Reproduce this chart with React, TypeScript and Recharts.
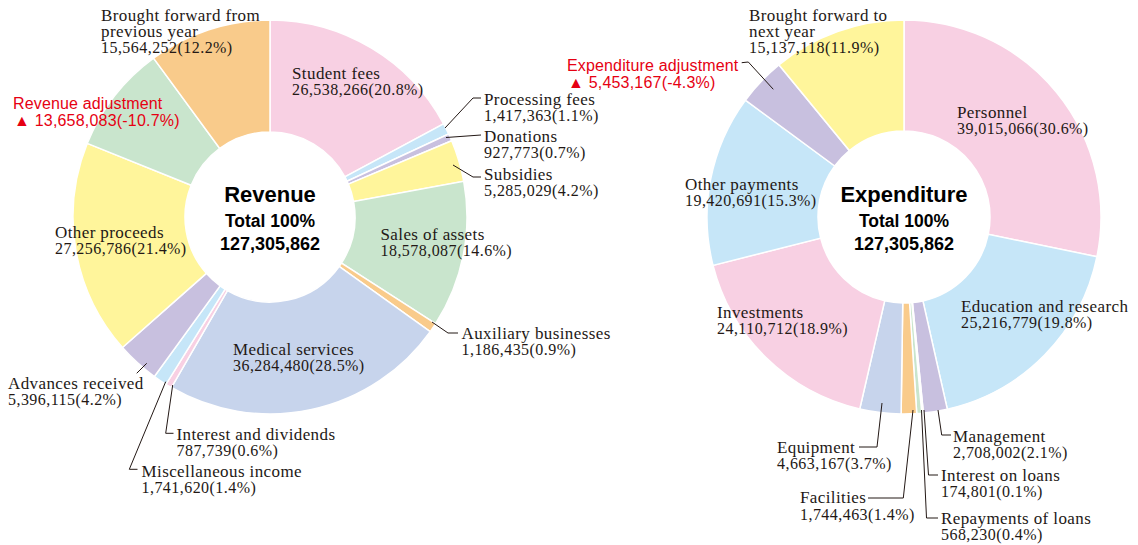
import React from 'react';
import { PieChart, Pie, Cell } from 'recharts';

// ---------- DATA ----------
const revenueCategories = [
  'Student fees', 'Processing fees', 'Donations', 'Subsidies', 'Sales of assets',
  'Auxiliary businesses', 'Medical services', 'Interest and dividends', 'Miscellaneous income',
  'Advances received', 'Other proceeds', 'Revenue adjustment', 'Brought forward from previous year',
];
const revenueValues = [
  26538266, 1417363, 927773, 5285029, 18578087, 1186435, 36284480, 787739, 1741620,
  5396115, 27256786, 13658083, 15564252,
];
const revenuePercents = ['20.8', '1.1', '0.7', '4.2', '14.6', '0.9', '28.5', '0.6', '1.4', '4.2', '21.4', '-10.7', '12.2'];

const expenditureCategories = [
  'Personnel', 'Education and research', 'Management', 'Interest on loans', 'Repayments of loans',
  'Facilities', 'Equipment', 'Investments', 'Other payments', 'Expenditure adjustment',
  'Brought forward to next year',
];
const expenditureValues = [
  39015066, 25216779, 2708002, 174801, 568230, 1744463, 4663167, 24110712, 19420691, 5453167, 15137118,
];
const expenditurePercents = ['30.6', '19.8', '2.1', '0.1', '0.4', '1.4', '3.7', '18.9', '15.3', '-4.3', '11.9'];

const totalLabel = 'Total 100%';
const totalValue = 127305862;

// ---------- STYLES ----------
const PINK = '#f8d0e3';
const LBLUE = '#c6e6f8';
const LAV = '#c8c0df';
const YEL = '#fff59b';
const GRN = '#c9e5cd';
const ORG = '#f9cb8b';
const PERI = '#c7d4ec';
const revenueColors = [PINK, LBLUE, LAV, YEL, GRN, ORG, PERI, PINK, LBLUE, LAV, YEL, GRN, ORG];
const expenditureColors = [PINK, LBLUE, LAV, YEL, GRN, ORG, PERI, PINK, LBLUE, LAV, YEL];

const RED = '#e60012';
const INK = '#231815';
const SERIF = '"Liberation Serif", "Times New Roman", serif';
const SANS = '"Liberation Sans", Arial, Helvetica, sans-serif';

type LabelLayout = {
  i: number;
  x: number;
  y: number;
  lines?: string[];
  leader?: number[][];
  red?: boolean;
};

const revenueLayout: LabelLayout[] = [
  { i: 12, x: 101, y: 20.5, lines: ['Brought forward from', 'previous year'] },
  { i: 11, x: 13, y: 109, red: true },
  { i: 0, x: 292, y: 79 },
  { i: 1, x: 484, y: 105, leader: [[445, 128], [473, 98], [481, 98]] },
  { i: 2, x: 484, y: 142, leader: [[446, 137.5], [481, 135]] },
  { i: 3, x: 484, y: 180, leader: [[453, 165], [473, 177], [481, 177]] },
  { i: 4, x: 380.5, y: 240 },
  { i: 5, x: 461.5, y: 339, leader: [[432, 322], [448, 333], [458, 333]] },
  { i: 6, x: 233, y: 355 },
  { i: 7, x: 176.5, y: 440, leader: [[172.7, 385], [165.7, 433.3], [173.5, 433.3]] },
  { i: 8, x: 141.5, y: 476.5, leader: [[165.7, 381.7], [129.3, 469.3], [137.5, 469.3]] },
  { i: 9, x: 8, y: 388.5, leader: [[146.7, 363.3], [136.7, 373.3]] },
  { i: 10, x: 55, y: 238 },
];

const expenditureLayout: LabelLayout[] = [
  { i: 10, x: 749, y: 20.5, lines: ['Brought forward to', 'next year'] },
  { i: 9, x: 567, y: 71, red: true, leader: [[741.7, 62.7], [748.3, 62], [773.3, 89.3]] },
  { i: 0, x: 957, y: 117.5 },
  { i: 8, x: 685, y: 190 },
  { i: 1, x: 961, y: 311.5 },
  { i: 7, x: 717, y: 317.5 },
  { i: 6, x: 777, y: 452.7, leader: [[882, 403], [877, 447], [859, 447]] },
  { i: 5, x: 800, y: 503.3, leader: [[913, 410], [903.3, 498], [868, 498]] },
  { i: 2, x: 953, y: 441.7, leader: [[938, 410], [941.7, 435], [951, 435]] },
  { i: 3, x: 941, y: 480.7, leader: [[924, 410], [928.5, 475], [938, 475]] },
  { i: 4, x: 941, y: 524, leader: [[921.5, 410], [926.5, 518], [938, 518]] },
];

const fmt = (v: number) => v.toLocaleString('en-US');

function Labels({ layout, names, values, percents }: {
  layout: LabelLayout[]; names: string[]; values: number[]; percents: string[];
}) {
  return (
    <g>
      {layout.map((l) => {
        const nameLines = l.lines ?? [names[l.i]];
        const numLine = l.red
          ? `▲ ${fmt(values[l.i])}(${percents[l.i]}%)`
          : `${fmt(values[l.i])}(${percents[l.i]}%)`;
        return (
          <g key={l.i}>
            {l.leader && (
              <polyline
                points={l.leader.map((p) => p.join(',')).join(' ')}
                fill="none"
                stroke={INK}
                strokeWidth={1}
              />
            )}
            {nameLines.map((t, k) => (
              <text
                key={k}
                x={l.x}
                y={l.y + k * 16.3}
                fontFamily={l.red ? SANS : SERIF}
                fontSize={l.red ? 16 : 17}
                letterSpacing={l.red ? 0.15 : 0.4}
                fill={l.red ? RED : INK}
              >
                {t}
              </text>
            ))}
            <text
              x={l.red ? l.x + 1 : l.x}
              y={l.y + nameLines.length * 16.3 + (l.red ? 0.5 : 0)}
              fontFamily={l.red ? SANS : SERIF}
              fontSize={16}
              letterSpacing={l.red ? 0.2 : 0.45}
              fill={l.red ? RED : INK}
            >
              {numLine}
            </text>
          </g>
        );
      })}
    </g>
  );
}

function Center({ x, title }: { x: number; title: string }) {
  return (
    <g fontFamily={SANS} fontWeight="bold" fill="#000" textAnchor="middle">
      <text x={x} y={202} fontSize={22}>{title}</text>
      <text x={x} y={227} fontSize={17.5}>{totalLabel}</text>
      <text x={x} y={249.5} fontSize={18}>{fmt(totalValue)}</text>
    </g>
  );
}

export default function App() {
  const revData = revenueCategories.map((name, i) => ({ name, value: revenueValues[i] }));
  const expData = expenditureCategories.map((name, i) => ({ name, value: expenditureValues[i] }));
  return (
    <div style={{ position: 'absolute', left: 0, top: 0, width: 1138, height: 545, background: '#fff' }}>
      <PieChart width={1138} height={545} margin={{ top: 0, right: 0, bottom: 0, left: 0 }}>
        <Pie
          data={revData}
          dataKey="value"
          nameKey="name"
          cx={270}
          cy={217}
          innerRadius={85}
          outerRadius={197}
          startAngle={90}
          endAngle={-270}
          stroke="#ffffff"
          strokeWidth={1.5}
          isAnimationActive={false}
          label={false}
          labelLine={false}
        >
          {revData.map((d, i) => (
            <Cell key={d.name} fill={revenueColors[i]} />
          ))}
        </Pie>
        <Pie
          data={expData}
          dataKey="value"
          nameKey="name"
          cx={904}
          cy={217}
          innerRadius={86}
          outerRadius={197}
          startAngle={90}
          endAngle={-270}
          stroke="#ffffff"
          strokeWidth={1.5}
          isAnimationActive={false}
          label={false}
          labelLine={false}
        >
          {expData.map((d, i) => (
            <Cell key={d.name} fill={expenditureColors[i]} />
          ))}
        </Pie>
      </PieChart>
      <svg
        width={1138}
        height={545}
        style={{ position: 'absolute', left: 0, top: 0, pointerEvents: 'none' }}
      >
        <Labels layout={revenueLayout} names={revenueCategories} values={revenueValues} percents={revenuePercents} />
        <Labels layout={expenditureLayout} names={expenditureCategories} values={expenditureValues} percents={expenditurePercents} />
        <Center x={270} title="Revenue" />
        <Center x={904} title="Expenditure" />
      </svg>
    </div>
  );
}
